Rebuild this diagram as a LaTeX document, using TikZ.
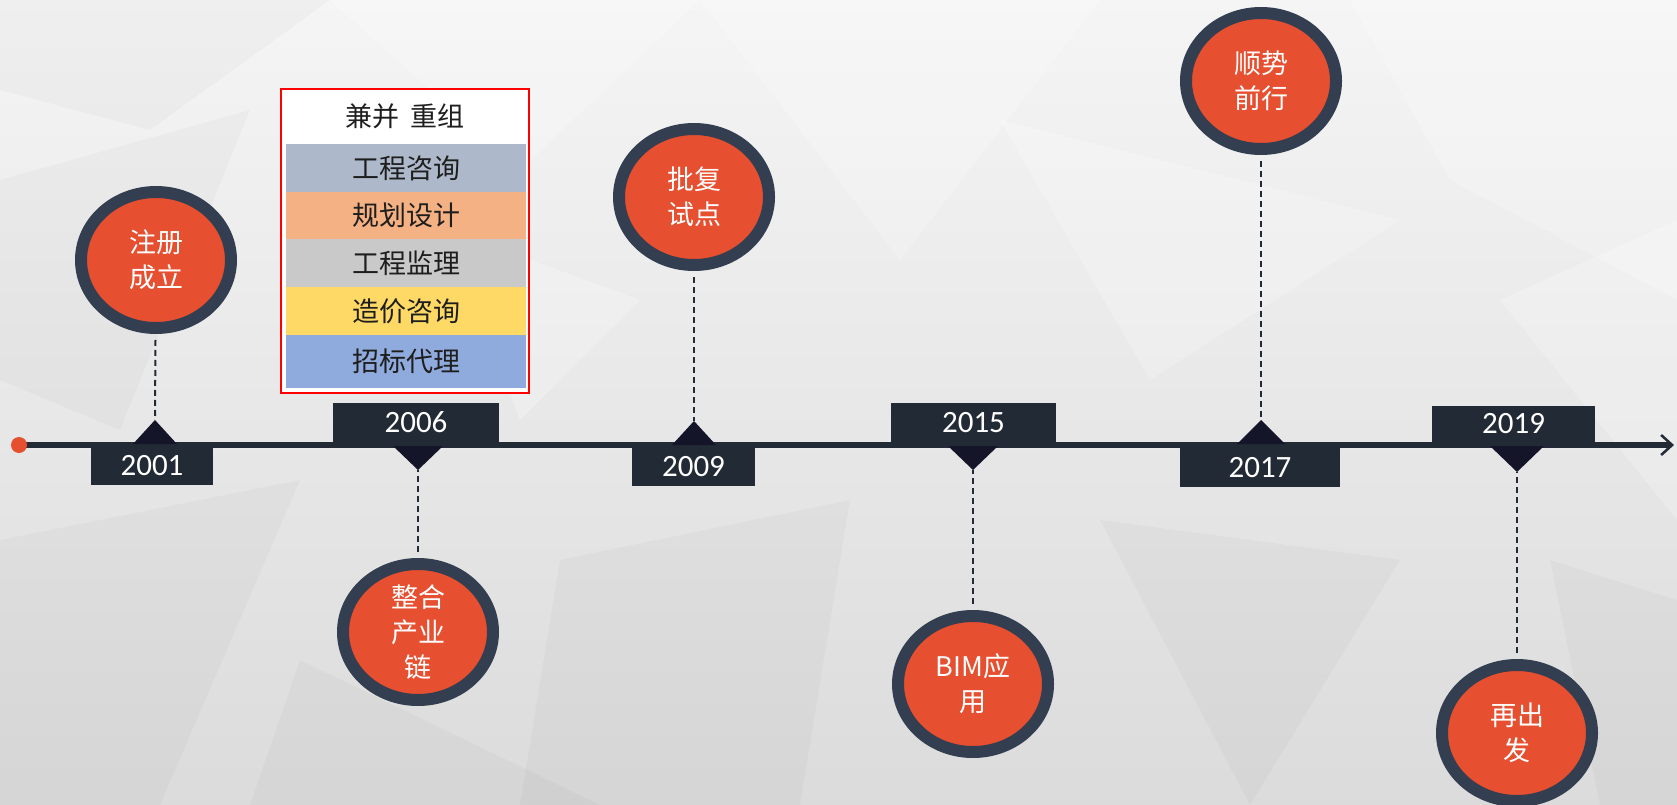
\documentclass[tikz,border=0pt]{standalone}
\usepackage{fontspec}
\setmainfont{Carlito}
\newfontfamily\cjk{Noto Sans CJK SC}
\usetikzlibrary{shapes.geometric,arrows.meta}
\definecolor{bubfill}{HTML}{E64F30}
\definecolor{bubring}{HTML}{333F50}
\definecolor{yrbox}{HTML}{222A35}
\definecolor{trifill}{HTML}{15152A}
\definecolor{rowA}{HTML}{ADB9CA}
\definecolor{rowB}{HTML}{F4B183}
\definecolor{rowC}{HTML}{C9C9C9}
\definecolor{rowD}{HTML}{FFD966}
\definecolor{rowE}{HTML}{8FAADC}
\definecolor{txtdark}{HTML}{1E1E1E}
\tikzset{
  bub/.style={ellipse, minimum width=150pt, minimum height=136pt, inner sep=0pt,
    fill=bubfill, draw=bubring, line width=12pt, text=white, align=center,
    font=\cjk\fontsize{27}{35}\selectfont},
  yr/.style={fill=yrbox, text=white, inner sep=0pt, font=\fontsize{31}{33}\selectfont},
  dashline/.style={draw=yrbox, line width=2pt, dash pattern=on 6pt off 4pt, shorten <=6pt},
  tri/.style={fill=trifill},
  rowbox/.style={minimum width=240pt, inner sep=0pt, text=txtdark,
    font=\cjk\fontsize{27}{30}\selectfont},
  poly/.style={fill=white, opacity=0.22},
  polyd/.style={fill=black, opacity=0.025}
}
\begin{document}
\begin{tikzpicture}[x=1pt,y=-1pt]
\useasboundingbox (0,0) rectangle (1677,805);
% background
\shade[top color=white!96!black, bottom color=white!86!black] (0,0) rectangle (1677,805);
\fill[polyd] (0,0) -- (330,0) -- (150,130) -- (0,90) -- cycle;
\fill[poly] (330,0) -- (700,0) -- (520,170) -- cycle;
\fill[poly] (700,0) -- (1100,0) -- (900,260) -- cycle;
\fill[poly] (1350,0) -- (1677,0) -- (1677,300) -- (1450,180) -- cycle;
\fill[polyd] (0,180) -- (250,110) -- (120,430) -- (0,380) -- cycle;
\fill[poly] (1000,120) -- (1400,220) -- (1150,380) -- cycle;
\fill[polyd] (0,540) -- (300,480) -- (160,805) -- (0,805) -- cycle;
\fill[polyd] (560,560) -- (850,500) -- (800,805) -- (520,805) -- cycle;
\fill[polyd] (1100,520) -- (1400,560) -- (1250,805) -- cycle;
\fill[poly] (1500,300) -- (1677,220) -- (1677,520) -- cycle;
\fill[polyd] (300,660) -- (600,805) -- (250,805) -- cycle;
\fill[poly] (450,230) -- (640,300) -- (520,420) -- cycle;
\fill[polyd] (1550,560) -- (1677,600) -- (1677,805) -- (1600,805) -- cycle;

% table box
\node[draw=red, line width=2pt, fill=white, minimum width=248pt, minimum height=304pt, inner sep=0pt] (box) at (405,241) {};
\node[text=txtdark, font=\cjk\fontsize{27}{30}\selectfont] (hdr) at (405,116) {兼并\hspace{12pt}重组};
\node[rowbox, fill=rowA, minimum height=48pt] (r1) at (406,168) {工程咨询};
\node[rowbox, fill=rowB, minimum height=47.5pt] (r2) at (406,215.5) {规划设计};
\node[rowbox, fill=rowC, minimum height=48pt] (r3) at (406,263) {工程监理};
\node[rowbox, fill=rowD, minimum height=48pt] (r4) at (406,311) {造价咨询};
\node[rowbox, fill=rowE, minimum height=53pt] (r5) at (406,361.5) {招标代理};

% bubbles
\node[bub] (c1) at (156,260) {注册\\成立};
\node[bub] (c2) at (418,632) {整合\\产业\\链};
\node[bub] (c3) at (694,197) {批复\\试点};
\node[bub] (c4) at (973,684) {BIM应\\用};
\node[bub] (c5) at (1261,81) {顺势\\前行};
\node[bub] (c6) at (1517,733) {再出\\发};

% triangle apex coordinates
\coordinate (a1) at (155,420);
\coordinate (a2) at (418,470);
\coordinate (a3) at (694,421);
\coordinate (a4) at (973,470);
\coordinate (a5) at (1261,420);
\coordinate (a6) at (1517,472);

% dashed connectors
\draw[dashline] (c1) -- (a1);
\draw[dashline] (c2) -- (a2);
\draw[dashline] (c3) -- (a3);
\draw[dashline] (c4) -- (a4);
\draw[dashline] (c5) -- (a5);
\draw[dashline] (c6) -- (a6);

% timeline
\coordinate (tstart) at (19,445);
\coordinate (tend) at (1674,445);
\draw[draw=yrbox, line width=6.5pt, -{Straight Barb[length=11pt,width=20pt,line width=2.5pt]}] (tstart) -- (tend);
\node[circle, fill=bubfill, minimum size=16pt, inner sep=0pt] (dot) at (tstart) {};

% triangles
\fill[tri] (a1) -- ++(-22,24) -- ++(44,0) -- cycle;
\fill[tri] (a3) -- ++(-22,24) -- ++(44,0) -- cycle;
\fill[tri] (a5) -- ++(-24,24) -- ++(48,0) -- cycle;
\fill[tri] (a2) -- ++(-25,-24) -- ++(50,0) -- cycle;
\fill[tri] (a4) -- ++(-25,-24) -- ++(50,0) -- cycle;
\fill[tri] (a6) -- ++(-27,-26) -- ++(54,0) -- cycle;

% year boxes
\node[yr, minimum width=122pt, minimum height=37pt] (y1) at (152,466) {2001};
\node[yr, minimum width=166pt, minimum height=39pt] (y2) at (416,422.5) {2006};
\node[yr, minimum width=123pt, minimum height=39pt] (y3) at (693.5,466.5) {2009};
\node[yr, minimum width=165pt, minimum height=39pt] (y4) at (973.5,422.5) {2015};
\node[yr, minimum width=160pt, minimum height=39pt] (y5) at (1260,467.5) {2017};
\node[yr, minimum width=163pt, minimum height=36pt] (y6) at (1513.5,424) {2019};
\end{tikzpicture}
\end{document}
